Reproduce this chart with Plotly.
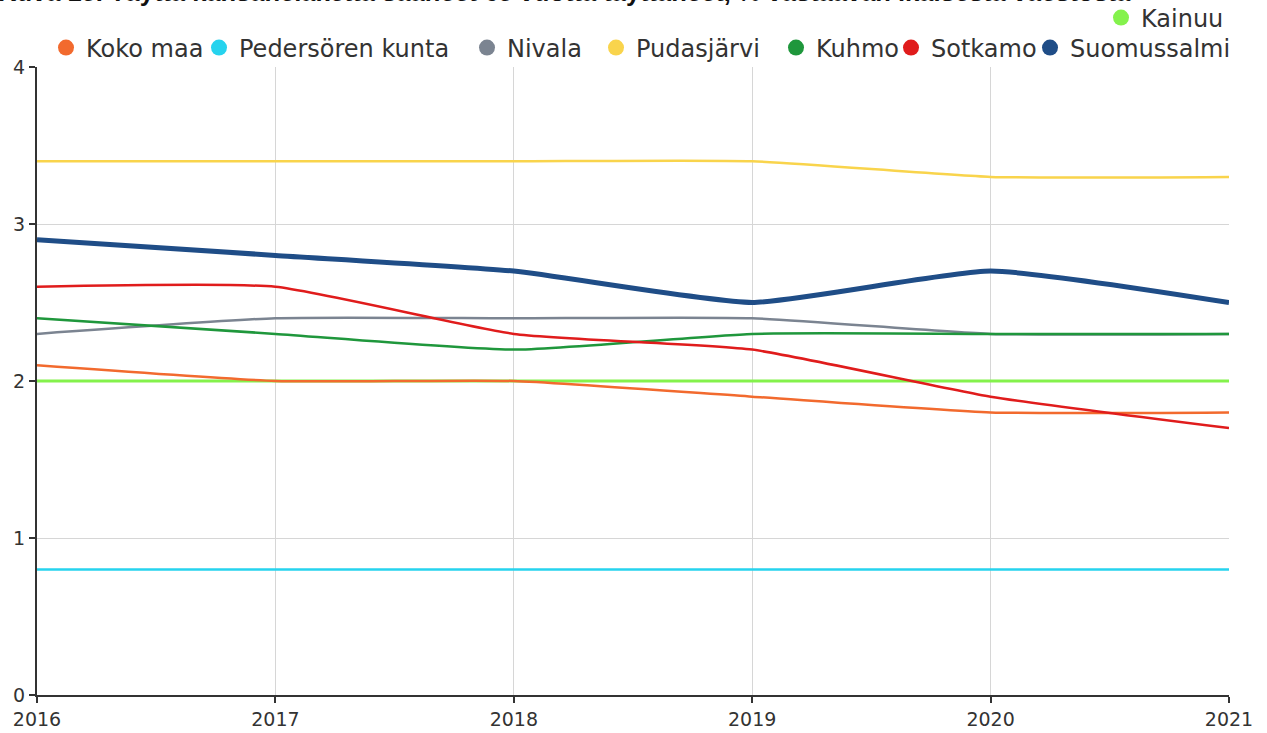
import plotly.graph_objects as go

YEARS = [2016, 2017, 2018, 2019, 2020, 2021]

KOKO_MAA = [2.1, 2.0, 2.0, 1.9, 1.8, 1.8]
PEDERSOREN = [0.8, 0.8, 0.8, 0.8, 0.8, 0.8]
NIVALA = [2.3, 2.4, 2.4, 2.4, 2.3, 2.3]
PUDASJARVI = [3.4, 3.4, 3.4, 3.4, 3.3, 3.3]
KUHMO = [2.4, 2.3, 2.2, 2.3, 2.3, 2.3]
SOTKAMO = [2.6, 2.6, 2.3, 2.2, 1.9, 1.7]
SUOMUSSALMI = [2.9, 2.8, 2.7, 2.5, 2.7, 2.5]
KAINUU = [2.0, 2.0, 2.0, 2.0, 2.0, 2.0]

TITLE = (
    "Kuva 15. Täyttä kansaneläkettä saaneet 65 vuotta täyttäneet, "
    "% vastaavan ikäisestä väestöstä"
)

# name, values, colour, line width
SERIES = [
    ("Koko maa", KOKO_MAA, "#f26a2e", 2.5),
    ("Pedersören kunta", PEDERSOREN, "#26d3ee", 2.5),
    ("Nivala", NIVALA, "#7b8491", 2.5),
    ("Pudasjärvi", PUDASJARVI, "#f9d44c", 2.5),
    ("Kuhmo", KUHMO, "#1f973c", 2.5),
    ("Sotkamo", SOTKAMO, "#e01c1c", 2.5),
    ("Suomussalmi", SUOMUSSALMI, "#1f4d87", 5),
    ("Kainuu", KAINUU, "#84f24c", 3),
]

# legend dot centres in px (x, y) - each entry gets its own legend box
LEGEND_POS = [
    (66, 48), (219, 48), (487, 48), (616, 48),
    (796, 48), (911, 48), (1050, 48), (1121, 18),
]

FONT = "DejaVu Sans"
TEXT_COLOR = "#333333"
W, H = 1267, 733


def add_series(fig, idx, name, values, color, width):
    """Line itself plus a legend-only dot, like the original chart"""
    legend_id = "legend" if idx == 0 else "legend%d" % (idx + 1)
    fig.add_trace(
        go.Scatter(
            x=YEARS,
            y=values,
            mode="lines",
            name=name,
            line=dict(color=color, width=width, shape="spline", smoothing=0.5),
            showlegend=False,
        )
    )
    fig.add_trace(
        go.Scatter(
            x=[None],
            y=[None],
            mode="markers",
            name=name,
            marker=dict(color=color, size=16, symbol="circle"),
            legend=legend_id,
        )
    )
    px_x, px_y = LEGEND_POS[idx]
    # the dot sits ~20px right of the legend box edge
    return legend_id, dict(
        xref="container",
        yref="container",
        x=(px_x - 20) / W,
        y=1 - px_y / H,
        xanchor="left",
        yanchor="middle",
        font=dict(family=FONT, size=24, color=TEXT_COLOR),
        itemsizing="trace",
        bgcolor="rgba(0,0,0,0)",
        borderwidth=0,
    )


fig = go.Figure()

# Kainuu drawn first so the others lie on top, Suomussalmi last
order = [7, 0, 1, 2, 3, 4, 5, 6]
legends = {}
for i in order:
    key, cfg = add_series(fig, i, *SERIES[i])
    legends[key] = cfg

fig.update_layout(
    width=W,
    height=H,
    margin=dict(l=37, r=38, t=67, b=38, autoexpand=False),
    plot_bgcolor="white",
    paper_bgcolor="white",
    font=dict(family=FONT, size=18, color=TEXT_COLOR),
    annotations=[
        dict(
            text="<b>" + TITLE + "</b>",
            xref="paper",
            yref="paper",
            x=-0.0344,
            y=1.0935,
            xanchor="left",
            yanchor="bottom",
            showarrow=False,
            font=dict(family="Liberation Sans", size=25.5, color="#111111"),
        )
    ],
    **legends,
)

axis_style = dict(
    showgrid=True,
    gridcolor="#d6d6d6",
    gridwidth=1,
    showline=True,
    linecolor="#333333",
    linewidth=2,
    ticks="outside",
    ticklen=6,
    tickcolor="#333333",
    tickwidth=2,
    zeroline=False,
    automargin=False,
    tickfont=dict(family=FONT, size=19, color=TEXT_COLOR),
)
fig.update_xaxes(range=[2016, 2021], tickvals=YEARS, **axis_style)
fig.update_yaxes(range=[0, 4], dtick=1, **axis_style)

# drop the page's default 8px body margin so the figure fills the window
fig.write_html(
    "out.html",
    config={"displayModeBar": False},
    post_script="document.body.style.margin = '0px';",
)
